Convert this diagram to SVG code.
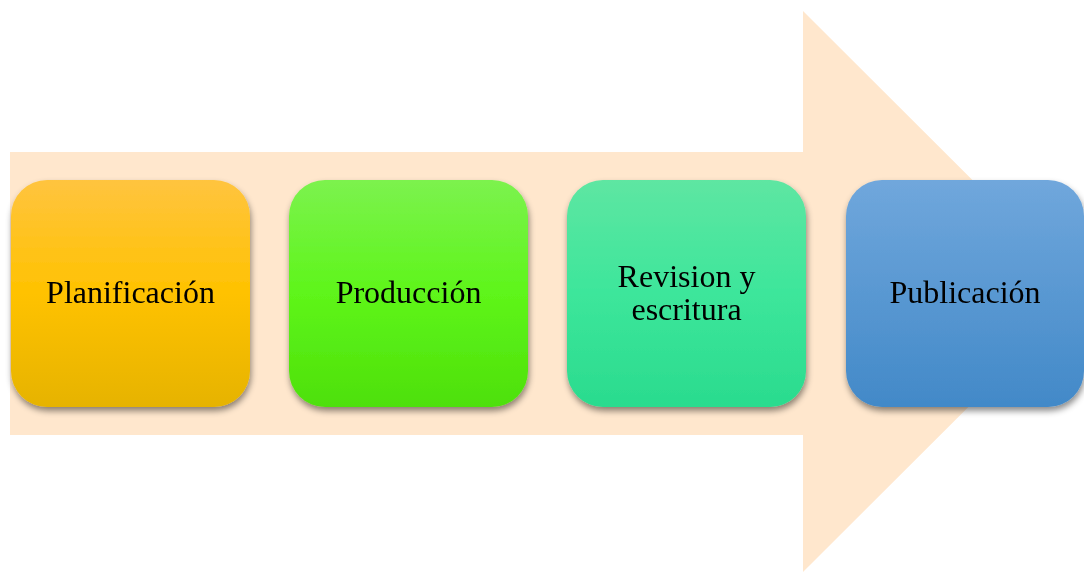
<svg xmlns="http://www.w3.org/2000/svg" width="1084" height="572" viewBox="0 0 1084 572">
<style>
.lbl{font-family:"Liberation Serif","Times New Roman",serif;font-size:32px;fill:#000;text-anchor:middle}
.box{filter:url(#sh)}
</style>
<defs>
<filter id="sh" x="-10%" y="-10%" width="125%" height="130%">
<feGaussianBlur in="SourceAlpha" stdDeviation="3"/>
<feOffset dx="1" dy="4" result="b"/>
<feFlood flood-color="#000" flood-opacity="0.45"/>
<feComposite in2="b" operator="in"/>
<feMerge><feMergeNode/><feMergeNode in="SourceGraphic"/></feMerge>
</filter>
<linearGradient id="g1" x1="0" y1="0" x2="0" y2="1"><stop offset="0" stop-color="#FFC43F"/><stop offset="0.5" stop-color="#FFC200"/><stop offset="1" stop-color="#E6B300"/></linearGradient>
<linearGradient id="g2" x1="0" y1="0" x2="0" y2="1"><stop offset="0" stop-color="#7CF24E"/><stop offset="0.5" stop-color="#5EF51A"/><stop offset="1" stop-color="#4EE00A"/></linearGradient>
<linearGradient id="g3" x1="0" y1="0" x2="0" y2="1"><stop offset="0" stop-color="#5EE6A2"/><stop offset="0.5" stop-color="#3DE69B"/><stop offset="1" stop-color="#2ADB8E"/></linearGradient>
<linearGradient id="g4" x1="0" y1="0" x2="0" y2="1"><stop offset="0" stop-color="#70A7DC"/><stop offset="1" stop-color="#4289C8"/></linearGradient>
</defs>
<g id="arrow">
<polygon points="10,152 803,152 803,11 1084,291.5 803,572 803,435 10,435" fill="#FFE7CD"/>
</g>
<g id="connectors"/>
<g id="n1" class="box">
<rect x="11" y="180" width="239" height="227" rx="36" fill="url(#g1)"/>
<text class="lbl" x="130.5" y="303">Planificación</text>
</g>
<g id="n2" class="box">
<rect x="289" y="180" width="239" height="227" rx="36" fill="url(#g2)"/>
<text class="lbl" x="408.5" y="303">Producción</text>
</g>
<g id="n3" class="box">
<rect x="567" y="180" width="239" height="227" rx="36" fill="url(#g3)"/>
<text class="lbl" x="686.5" y="287">Revision y</text>
<text class="lbl" x="686.5" y="320">escritura</text>
</g>
<g id="n4" class="box">
<rect x="846" y="180" width="238" height="227" rx="36" fill="url(#g4)"/>
<text class="lbl" x="965" y="303">Publicación</text>
</g>
</svg>
